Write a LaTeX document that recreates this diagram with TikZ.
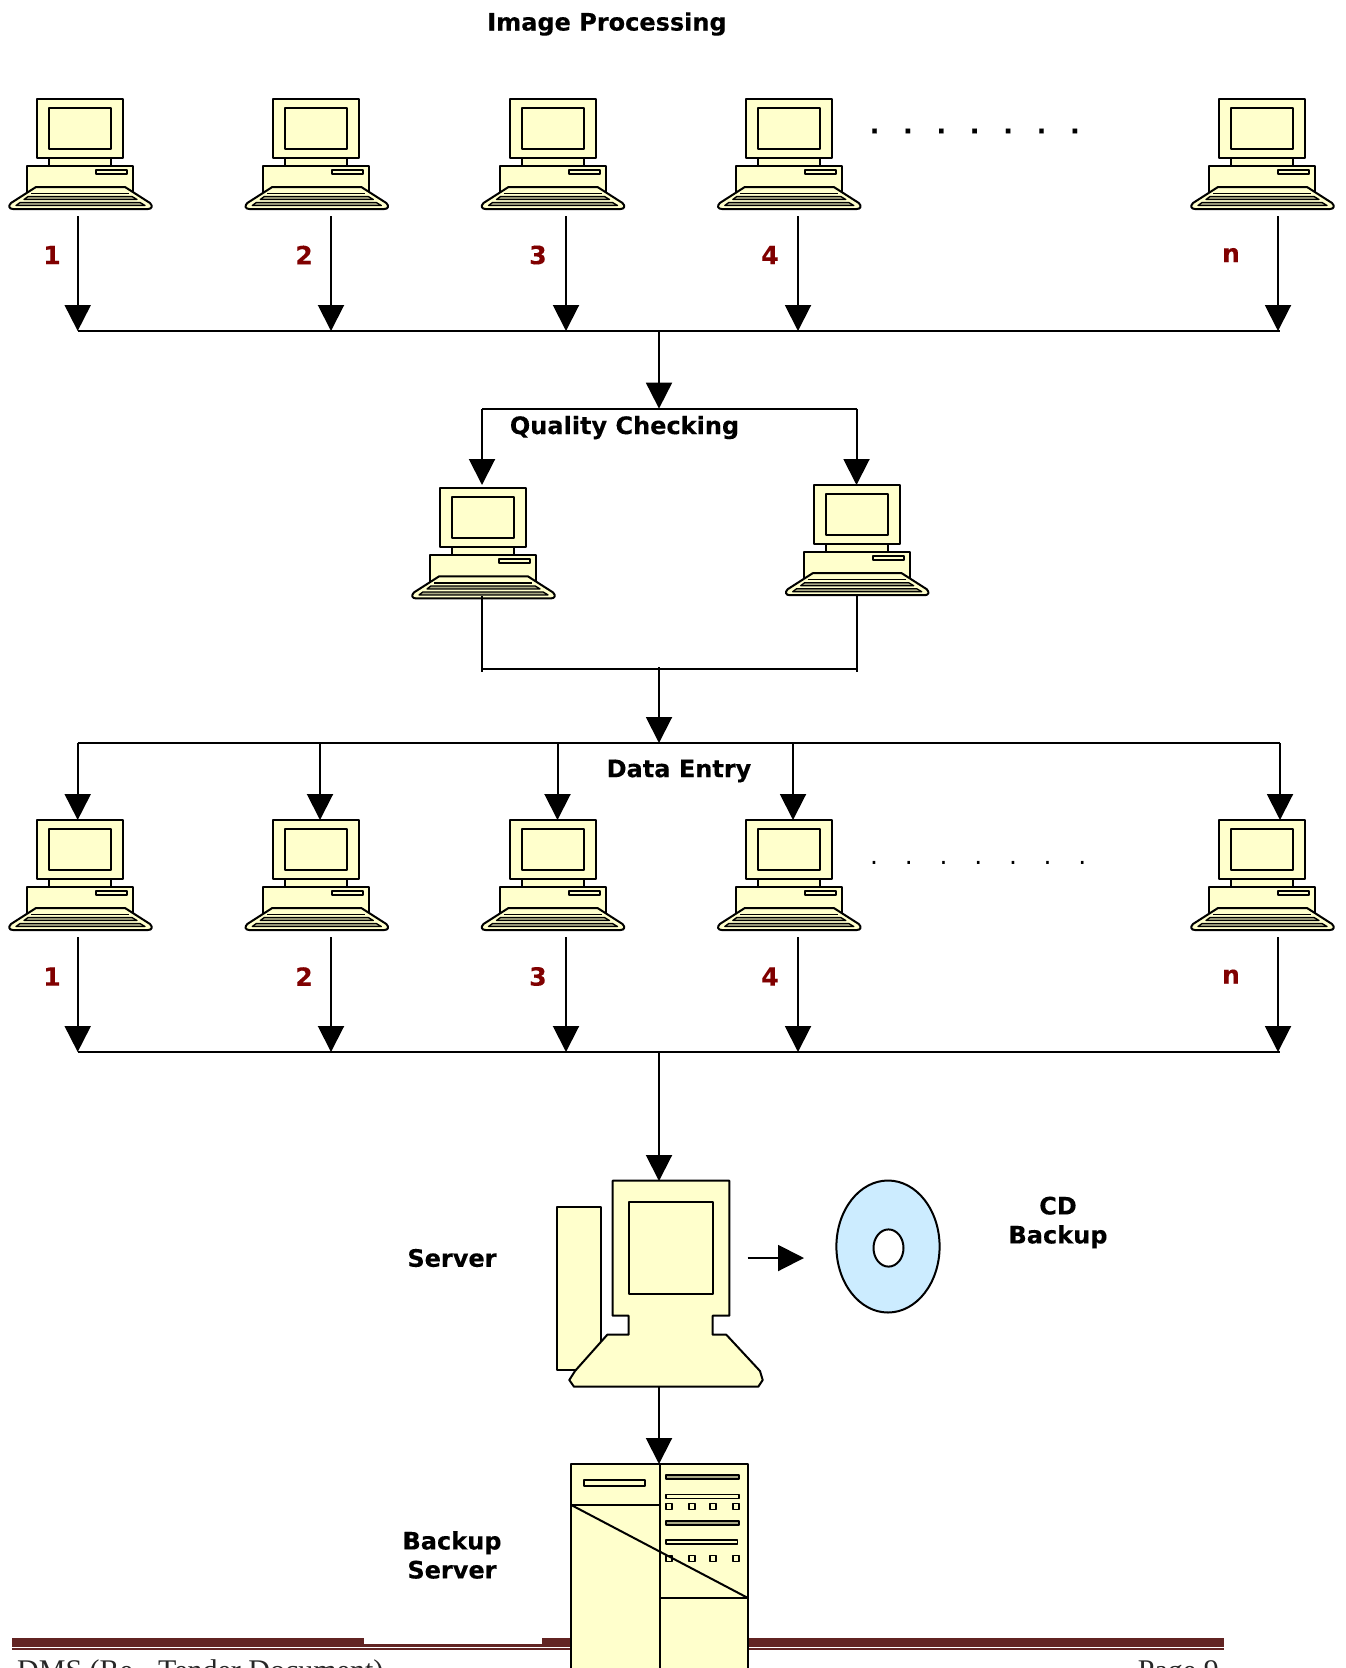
\documentclass[tikz,border=0pt]{standalone}
\usepackage{fontspec}
\setmainfont{DejaVu Sans}[BoldFeatures={FakeBold=0.25}]
\newfontfamily\footfont{Liberation Serif}
\usetikzlibrary{arrows.meta}
\definecolor{iconfill}{HTML}{FFFFCC}
\definecolor{keyband}{HTML}{A9A985}
\definecolor{cdblue}{HTML}{CCECFF}
\definecolor{numred}{HTML}{800000}
\definecolor{rulered}{HTML}{622423}
\tikzset{
  icon/.style={draw=black,fill=iconfill,line width=2pt,line join=round},
  thin icon/.style={draw=black,fill=keyband,line width=1.3pt,line join=round},
  flow/.style={draw=black,line width=2pt,-{Triangle[length=26pt,width=26pt]},shorten >=0pt},
  bus/.style={draw=black,line width=2pt},
  lbl/.style={font=\bfseries\fontsize{24}{29}\selectfont,align=center,inner sep=0pt},
  num/.style={font=\bfseries\fontsize{25}{29}\selectfont,text=numred,inner sep=0pt},
  dotsrow/.style={inner sep=0pt,font=\bfseries\fontsize{25}{29}\selectfont},
  foot/.style={font=\footfont\fontsize{30}{34}\selectfont,inner sep=0pt,text=black!85},
  computer/.pic={
    \path[icon] (37,99) rectangle (123,158);
    \path[icon] (49,108) rectangle (111,149);
    \path[icon] (49,158) rectangle (111,166);
    \path[icon] (27,166) rectangle (133,194);
    \path[icon] (96,170) rectangle (127,174);
    \path[icon] (36,187) -- (125,187) -- (150,203) .. controls (153,206) and (152,209) .. (148,209) -- (13,209) .. controls (9,209) and (8,206) .. (11,203) -- cycle;
    \draw[line width=1.5pt] (31,193.5) -- (129,193.5);
    \path[thin icon] (28,196.5) -- (132,196.5) -- (137,199.5) -- (24,199.5) -- cycle;
    \path[thin icon] (20,202.5) -- (140,202.5) -- (145,205.5) -- (16,205.5) -- cycle;
  }
}
\begin{document}
\begin{tikzpicture}[x=1pt,y=-1pt]
\useasboundingbox (0,0) rectangle (1346,1668);
\fill[white] (0,0) rectangle (1346,1668);
\clip (0,0) rectangle (1346,1668);

% footer rules
\fill[rulered] (12,1638) rectangle (364,1647);
\fill[rulered] (364,1644) rectangle (542,1647);
\fill[rulered] (542,1638) rectangle (1224,1647);
\fill[rulered] (12,1648.3) rectangle (1224,1650);
\node[foot,anchor=base west] (footL) at (17,1680) {DMS (Re - Tender Document)};
\node[foot,anchor=base east] (footR) at (1219,1680) {Page 9};

% computers
\foreach \dx in {0,236.3,472.5,708.8,1182}{
  \pic at (\dx,0) {computer};
  \pic at (\dx,721) {computer};
}
\pic at (403,389.4) {computer};
\pic at (776.7,386.2) {computer};

% titles
\node[lbl] (t1) at (607,24) {Image Processing};
\node[lbl] (t2) at (624.5,427.5) {Quality Checking};
\node[lbl] (t3) at (679,771) {Data Entry};
\node[lbl] (t4) at (452,1258) {Server};
\node[lbl] (t5) at (1058,1222.5) {CD\\Backup};
\node[lbl] (t6) at (452,1555) {Backup\\Server};

% numbers
\foreach \n/\x/\t in {1/52/1,2/304/2,3/538/3,4/770/4,n/1231/n}{
  \node[num] at (\x,255) {\t};
  \node[num] at (\x,976.5) {\t};
}
\node[dotsrow] (dots1) at (974.7,131) {.\hspace{23.9pt}.\hspace{23.9pt}.\hspace{23.9pt}.\hspace{23.9pt}.\hspace{23.9pt}.\hspace{23.9pt}.};
\node[inner sep=0pt,font=\fontsize{25}{29}\selectfont] (dots2) at (978.3,863.4) {.\hspace{26.75pt}.\hspace{26.75pt}.\hspace{26.75pt}.\hspace{26.75pt}.\hspace{26.75pt}.\hspace{26.75pt}.};

% coordinates
\coordinate (b1L) at (77.7,331);
\coordinate (b1R) at (1280,331);
\coordinate (b1M) at (659,331);
\coordinate (qT) at (659,408.6);
\coordinate (qL) at (482,408.6);
\coordinate (qR) at (856.5,408.6);
\coordinate (qLd) at (482,485);
\coordinate (qRd) at (856.5,485);
\coordinate (qLu) at (482,596);
\coordinate (qRu) at (856.5,594);
\coordinate (qLb) at (482,669);
\coordinate (qRb) at (856.5,669);
\coordinate (qMb) at (659,667);
\coordinate (dM) at (659,743);
\coordinate (dL) at (77.7,743);
\coordinate (dR) at (1280,743);
\coordinate (b2L) at (77.7,1052);
\coordinate (b2R) at (1280,1052);
\coordinate (b2M) at (659,1052);
\coordinate (srvT) at (659,1181);
\coordinate (srvB) at (659,1387);
\coordinate (bkT) at (659,1464);
\coordinate (srvA) at (747.5,1258);
\coordinate (cdA) at (804,1258);

% row arrows
\foreach \x in {77.7,331,566,798,1278}{
  \draw[flow] (\x,216) -- (\x,331);
  \draw[flow] (\x,937) -- (\x,1052);
}
\draw[bus] (b1L) -- (b1R);
\draw[flow] (b1M) -- (qT);
\draw[bus] (qL) -- (qR);
\draw[flow] (qL) -- (qLd);
\draw[flow] (qR) -- (qRd);
\draw[bus] (qLu) -- (482,672);
\draw[bus] (qRu) -- (856.5,672);
\draw[bus] (qLb) -- (qRb);
\draw[flow] (qMb) -- (dM);
\draw[bus] (dL) -- (dR);
\foreach \x in {77.7,320,557.5,793,1280}{
  \draw[flow] (\x,743) -- (\x,820);
}
\draw[bus] (b2L) -- (b2R);
\draw[flow] (b2M) -- (srvT);

% server
\path[icon] (556.7,1206.7) rectangle (600.7,1370);
\path[icon] (612.7,1180.7) -- (729.3,1180.7) -- (729.3,1315.7) -- (712.7,1315.7) -- (712.7,1334.7) -- (726.3,1334.7) -- (760,1371) -- (762.7,1380) -- (758.3,1386.7) -- (574,1386.7) -- (569.3,1380) -- (575,1371) -- (607.3,1334.7) -- (628.7,1334.7) -- (628.7,1315.7) -- (612.7,1315.7) -- cycle;
\path[icon] (628.7,1202.3) rectangle (712.7,1293.7);
\draw[flow] (srvB) -- (bkT);
\draw[flow] (srvA) -- (cdA);

% CD
\path[icon,fill=cdblue] (888,1246.5) ellipse [x radius=51.6,y radius=66];
\path[icon,fill=white] (888.5,1248) ellipse [x radius=15,y radius=18.6];

% backup server
\path[icon] (570.7,1464) rectangle (748,1680);
\draw[line width=2pt] (659.7,1464) -- (659.7,1680);
\draw[line width=2pt] (570.7,1504.7) -- (659.7,1504.7);
\draw[line width=1.6pt] (659.7,1598) -- (748,1598);
\path[icon] (584,1480) rectangle (645.3,1485.7);
\draw[line width=2pt] (570.7,1504.7) -- (748,1598);
\foreach \a/\b/\c/\f in {1475/1479/739/keyband,1494.3/1498.3/739/iconfill,1520.7/1524.7/739/keyband,1540/1544/737.3/iconfill}{
  \path[icon,fill=\f,line width=1.6pt] (666,\a) rectangle (\c,\b);
}
\foreach \x in {669,691.7,713,735.7}{
  \path[icon,line width=1.6pt] (\x-3,1503.3) rectangle (\x+3,1509.3);
  \path[icon,line width=1.6pt,fill opacity=0] (\x-3,1555.3) rectangle (\x+3,1561.3);
}
\end{tikzpicture}
\end{document}
